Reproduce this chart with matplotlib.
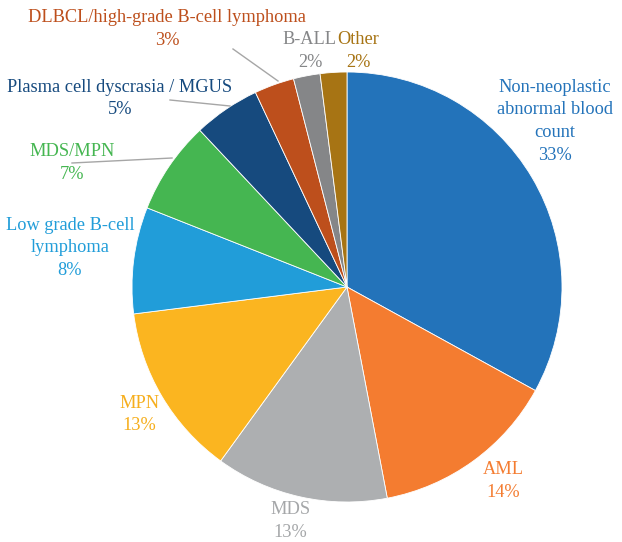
import matplotlib
matplotlib.use("Agg")
import matplotlib.pyplot as plt

categories = ["Non-neoplastic\nabnormal blood\ncount", "AML", "MDS", "MPN",
              "Low grade B-cell\nlymphoma", "MDS/MPN", "Plasma cell dyscrasia / MGUS",
              "DLBCL/high-grade B-cell lymphoma", "B-ALL", "Other"]
values = [33, 14, 13, 13, 8, 7, 5, 3, 2, 2]
pct_labels = ["33%", "14%", "13%", "13%", "8%", "7%", "5%", "3%", "2%", "2%"]
colors = ["#2373BA", "#F47C30", "#ADAFB1", "#FBB520", "#219DD9",
          "#45B651", "#164A7E", "#BD4F1C", "#858688", "#A77414"]
text_colors = ["#2373BA", "#F47C30", "#A5A7A9", "#F6AE1C", "#219DD9",
               "#45B651", "#164A7E", "#BD4F1C", "#858688", "#A77414"]

plt.rcParams["font.family"] = ["Liberation Serif", "DejaVu Serif"]

W, H = 622, 542
fig = plt.figure(figsize=(W / 100, H / 100), dpi=100)
ax = fig.add_axes([0, 0, 1, 1])

cx, cy, r = 347, H - 287, 215
ax.pie(values, colors=colors, startangle=90, counterclock=False,
       center=(cx, cy), radius=r, frame=True,
       wedgeprops=dict(edgecolor="white", linewidth=0.6))
ax.set_xlim(0, W)
ax.set_ylim(0, H)
ax.set_aspect("equal")
ax.axis("off")

# label layout in pixel coords: (x centre, y of first line from top, pct x)
label_pos = [(555, 87, 555), (503, 470, 503), (290, 510, 290), (139, 403, 139),
             (70, 225, 70), (72, 152, 72), (120, 87, 120), (167, 18, 167),
             (309, 40, 310), (358, 40, 358)]
step = 22.7
for cat, pct, (x, y, px), c in zip(categories, pct_labels, label_pos, text_colors):
    lines = cat.split("\n")
    for i, ln in enumerate(lines):
        ax.text(x, H - (y + i * step), ln, ha="center", va="center", color=c,
                fontsize=13.2)
    ax.text(px, H - (y + len(lines) * step), pct, ha="center", va="center",
            color=c, fontsize=13.2)

leaders = [((72, 163), (172, 158)), ((170, 100), (230, 106)), ((233, 49), (278, 81))]
for (x0, y0), (x1, y1) in leaders:
    ax.plot([x0, x1], [H - y0, H - y1], color="#A6A6A6", lw=1)

fig.savefig("out.png", dpi=100)
